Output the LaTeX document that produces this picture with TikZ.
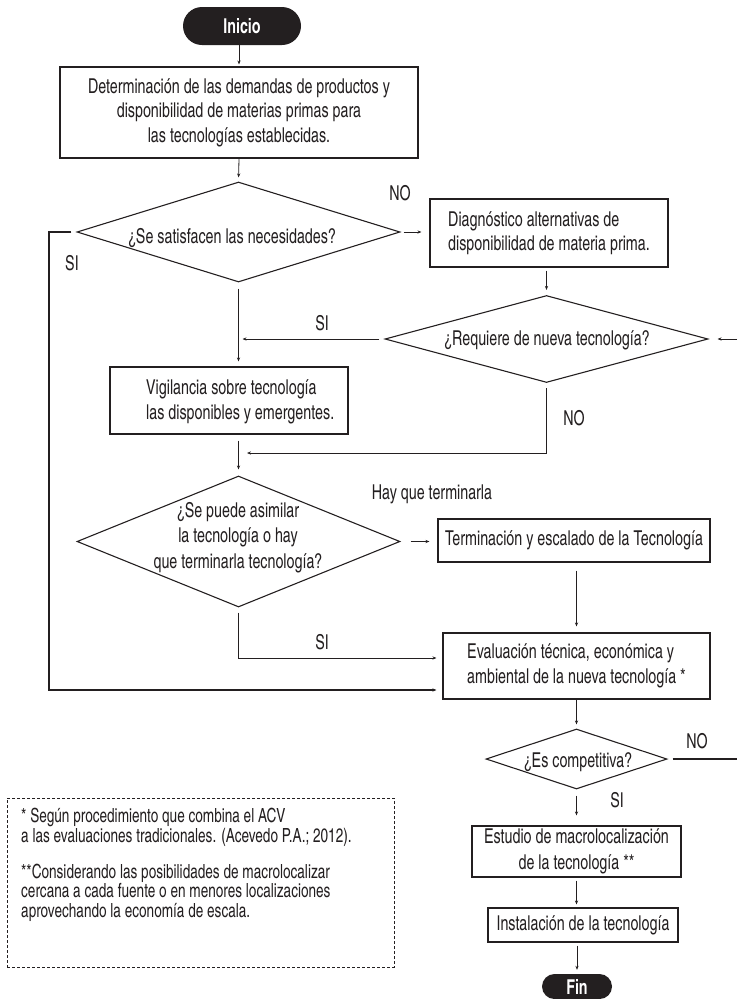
\documentclass[tikz,border=0pt]{standalone}
\usepackage{fontspec}
\setmainfont{texgyreheroscn}[Extension=.otf, UprightFont=*-regular, BoldFont=*-bold, FakeStretch=0.85]
\usetikzlibrary{shapes.geometric,arrows.meta}
\definecolor{ink}{HTML}{231F20}
\newcommand\bxf{\fontsize{20.5}{24.5}\selectfont}
\newcommand\ntf{\fontsize{19.5}{19.5}\selectfont}
\tikzset{
  proc/.style={draw=ink, line width=1.1pt, inner sep=0pt, align=center, font=\bxf, text=ink},
  dia/.style={draw=ink, diamond, line width=1.1pt, inner sep=0pt},
  pill/.style={fill=ink, text=white, inner sep=0pt, font=\bxf\bfseries},
  lbl/.style={font=\bxf, inner sep=0pt, text=ink},
  arr/.style={draw=ink, line width=0.8pt, -{Stealth[length=4pt,width=3.2pt]}},
  ln/.style={draw=ink, line width=1.2pt},
  notebox/.style={draw=ink, line width=0.7pt, densely dashed, inner sep=0pt}
}
\begin{document}
\begin{tikzpicture}[x=1pt,y=-1pt]
\useasboundingbox (0,0) rectangle (737,999);
% nodes
\node[pill, minimum width=118pt, minimum height=38pt, rounded corners=19pt] (inicio) at (242,26) {Inicio};
\node[proc, minimum width=358pt, minimum height=91pt] (b1) at (239,112.5) {Determinación de las demandas de productos y\\ disponibilidad de materias primas para\\ las tecnologías establecidas.};
\node[dia, minimum width=323pt, minimum height=100pt] (d1) at (238.5,232) {};
\node[lbl] (d1t) at (232,238) {¿Se satisfacen las necesidades?};
\node[proc, minimum width=238pt, minimum height=68pt, align=left] (b2) at (549,233) {Diagnóstico alternativas de\\disponibilidad de materia prima.};
\node[dia, minimum width=323pt, minimum height=87pt] (d2) at (546.5,339) {};
\node[lbl] (d2t) at (547,340) {¿Requiere de nueva tecnología?};
\node[proc, minimum width=238pt, minimum height=67pt] (b3) at (229,400.5) {};
\node[lbl, align=left, anchor=west] (b3t) at (146,402) {Vigilancia sobre tecnología\\ las disponibles y emergentes.};
\node[dia, minimum width=323pt, minimum height=131pt] (d3) at (238.5,541.5) {};
\node[lbl, align=center, font={\fontsize{20.5}{25.5}\selectfont}] (d3t) at (238,537.5) {¿Se puede asimilar\\la tecnología o hay\\que terminarla tecnología?};
\node[proc, minimum width=272pt, minimum height=43pt] (b4) at (574,540.5) {Terminación y escalado de la Tecnología};
\node[proc, minimum width=267pt, minimum height=66pt, align=left] (b5) at (576.5,666) {Evaluación técnica, económica y\\ambiental de la nueva tecnología *};
\node[dia, minimum width=181pt, minimum height=60pt] (d4) at (576.5,759) {};
\node[lbl] (d4t) at (578,762) {¿Es competitiva?};
\node[proc, minimum width=209pt, minimum height=51pt, font={\fontsize{20.5}{26}\selectfont}] (b6) at (576.5,851.5) {Estudio de macrolocalización\\de la tecnología **};
\node[proc, minimum width=190pt, minimum height=34pt] (b7) at (583,925) {Instalación de la tecnología};
\node[pill, minimum width=70pt, minimum height=25pt, rounded corners=12.5pt] (fin) at (577,986.5) {Fin};
% note
\node[notebox, minimum width=387pt, minimum height=169pt] (note) at (200.5,882.5) {};
\node[anchor=base west, align=left, font=\ntf, text=ink, inner sep=0pt] (notet) at (21,917) {* Según procedimiento que combina el ACV\\a las evaluaciones tradicionales. (Acevedo P.A.; 2012).\\[16.5pt]**Considerando las posibilidades de macrolocalizar\\cercana a cada fuente o en menores localizaciones\\aprovechando la economía de escala.};
% labels
\node[lbl] (lno1) at (400,193) {NO};
\node[lbl] (lsi1) at (72,263) {SI};
\node[lbl] (lsi2) at (322,323) {SI};
\node[lbl] (lno2) at (574,418) {NO};
\node[lbl] (lhay) at (432,494) {Hay que terminarla};
\node[lbl] (lsi3) at (322,642) {SI};
\node[lbl] (lno3) at (697,741) {NO};
\node[lbl] (lsi4) at (617,800) {SI};
% coordinates
\coordinate (j1) at (239,453);
\coordinate (j3) at (49,690);
\coordinate (r1) at (737,339);
\coordinate (r2) at (737,759);
% connectors
\draw[arr, shorten >=2pt] (b1.north |- inicio.south) -- (b1.north);
\draw[arr, shorten >=4pt] (b1.south) -- (d1.north);
\draw[arr, shorten <=3pt, shorten >=8pt] (d1.east) -- (d1.east -| b2.west);
\draw[arr, shorten <=3pt, shorten >=5pt] (d2.north |- b2.south) -- (d2.north);
\draw[arr, shorten <=5pt, shorten >=4pt] (d2.west) -- (d1.south |- d2.west);
\draw[arr, shorten <=6pt, shorten >=5pt] (d1.south) -- (d1.south |- b3.north);
\draw[arr, shorten <=6pt, shorten >=6pt] (d1.south |- b3.south) -- (d3.north);
\draw[arr, shorten >=8pt] ([yshift=-5pt]d2.south) |- (j1);
\draw[arr, shorten >=9pt] (r1) -- (d2.east);
\draw[arr, shorten <=10pt, shorten >=8pt] (d3.east) -- (d3.east -| b4.west);
\draw[arr, shorten <=8pt, shorten >=6pt] (b5.north |- b4.south) -- (b5.north);
\draw[arr, shorten <=5pt, shorten >=6pt] (d3.south) |- ([yshift=8pt]b5.west);
\draw[arr, line width=1.2pt, shorten >=6pt] ([xshift=-5pt]d1.west) -| (j3) -- ([yshift=-24pt]b5.west);
\draw[arr, shorten >=4pt] (b5.south) -- (d4.north);
\draw[ln, shorten <=5pt] (d4.east) -- (r2);
\draw[arr, shorten <=6pt, shorten >=10pt] (d4.south) -- (b6.north);
\draw[arr, shorten <=3pt, shorten >=3pt] (b6.south) -- (b6.south |- b7.north);
\draw[arr, shorten <=3pt, shorten >=4pt] (fin.north |- b7.south) -- (fin.north);
\end{tikzpicture}
\end{document}
